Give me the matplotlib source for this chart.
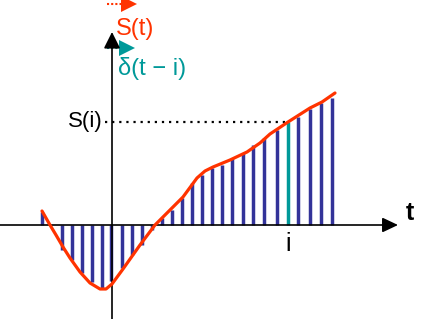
import matplotlib.pyplot as plt
import numpy as np

plt.rcParams['font.family'] = ['Liberation Sans', 'DejaVu Sans']

# curva S(t)
t_curve = [-7.0, -6.2, -5.6, -4.9, -4.2, -3.2, -2.2, -1.2, -0.6, 0.0, 1.1, 2.8,
           4.3, 4.8, 6.1, 7.1, 8.5, 9.3, 10.1, 11.8, 13.5, 14.8, 15.8, 17.6,
           19.8, 21.0, 22.3]
s_curve = [1.4, 0.0, -1.0, -2.2, -3.3, -4.7, -5.8, -6.4, -6.4, -5.9, -4.4, -2.0,
           0.0, 0.5, 1.8, 2.8, 4.7, 5.4, 5.8, 6.5, 7.3, 8.2, 9.1, 10.3,
           11.7, 12.3, 13.2]

# impulsos (muestras)
t_bars = [-7, -5, -4, -3, -2, -1, -0.1, 1, 2, 3, 4, 5, 6, 7, 8, 9, 10, 11, 12,
          13.1, 14.1, 15.2, 16.5, 17.6, 18.6, 19.8, 20.9, 22.0]
s_bars = [1.3, -2.5, -3.5, -4.8, -5.7, -6.3, -5.6, -4.3, -3.0, -2.0, -0.5, 0.7,
          1.5, 2.7, 4.2, 5.0, 5.7, 6.0, 6.7, 7.2, 8.0, 8.7, 9.5, 10.3, 10.8,
          11.6, 12.2, 12.7]
i_idx = 23  # la muestra resaltada

red = '#ff3300'
blue = '#333399'
teal = '#009999'

fig = plt.figure(figsize=(4.28, 3.19), dpi=100)
ax = fig.add_axes([0, 0, 1, 1])
ax.set_xlim(-11.2, 31.6)
ax.set_ylim(-9.4, 22.5)
ax.axis('off')

# ejes con flecha
ax.annotate('', xy=(28.6, 0), xytext=(-11.2, 0),
            arrowprops=dict(arrowstyle='-|>,head_length=0.95,head_width=0.45',
                            color='k', lw=1.2, mutation_scale=10, shrinkA=0, shrinkB=0))
ax.annotate('', xy=(0, 19.3), xytext=(0, -9.4),
            arrowprops=dict(arrowstyle='-|>,head_length=1.0,head_width=0.5',
                            color='k', lw=1.2, mutation_scale=10, shrinkA=0, shrinkB=0))

# barras
for k in range(len(t_bars)):
    c = teal if k == i_idx else blue
    ax.plot([t_bars[k], t_bars[k]], [0, s_bars[k]], color=c, lw=2.5,
            solid_capstyle='butt', zorder=2)

ax.plot(t_curve, s_curve, color=red, lw=2.3, zorder=3, solid_capstyle='round')

# S(i)
ax.plot([-0.7, t_bars[i_idx]], [s_bars[i_idx], s_bars[i_idx]], color='k',
        lw=1.6, linestyle=(0, (1, 2.2)), zorder=1)
ax.text(-0.9, s_bars[i_idx], 'S(i)', ha='right', va='center', fontsize=16)
ax.text(t_bars[i_idx], -1.9, 'i', ha='center', va='center', fontsize=18)
ax.text(29.8, 1.2, 't', ha='center', va='center', fontsize=18, fontweight='bold')

# leyenda
ax.plot([-0.5, 1.0], [22.1, 22.1], color=red, lw=1.5, linestyle=(0, (1, 1)))
ax.plot([1.7], [22.1], marker='>', color=red, markersize=11, markeredgewidth=0)
ax.text(0.4, 19.6, 'S(t)', color=red, ha='left', va='center', fontsize=17)
ax.plot([-0.5, 0.8], [17.7, 17.7], color=teal, lw=1.5, linestyle=(0, (1, 1)))
ax.plot([1.5], [17.7], marker='>', color=teal, markersize=11, markeredgewidth=0)
ax.text(0.6, 15.6, 'δ(t − i)', color=teal, ha='left', va='center', fontsize=17)

fig.savefig('out.png', dpi=100)
